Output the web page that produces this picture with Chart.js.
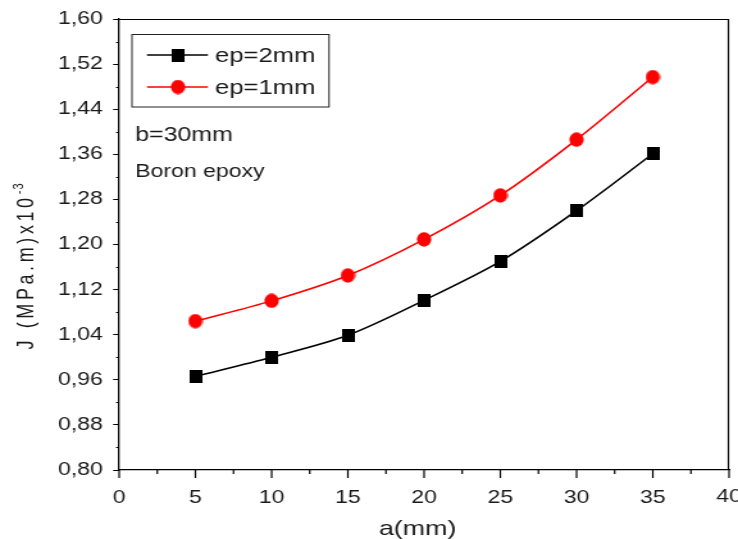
<!DOCTYPE html>
<html><head><meta charset="utf-8">
<script src="https://cdn.jsdelivr.net/npm/chart.js@4.4.1/dist/chart.umd.min.js"></script>
<style>
html,body{margin:0;padding:0;background:#fff;overflow:hidden;width:738px;height:539px}
#wrap{width:576px;height:539px;transform:scaleX(1.28125);transform-origin:0 0}
</style>
</head><body><div id="wrap"><canvas id="c" width="576" height="539"></canvas></div>
<script>
const aValues = [5, 10, 15, 20, 25, 30, 35];
const jEp2mm = [0.966, 1.000, 1.039, 1.101, 1.170, 1.260, 1.361];
const jEp1mm = [1.064, 1.100, 1.145, 1.209, 1.287, 1.386, 1.497];
const seriesNames = ['ep=2mm', 'ep=1mm'];
const noteLines = ['b=30mm', 'Boron epoxy'];
const xTitle = 'a(mm)';
const yTitleMain = 'J (MPa.m)x10';
const yTitleSup = '-3';

const FONT = "'Liberation Sans', Arial, sans-serif";
const TXT = '#1a1a1a';

function markerSquare(color) {
  const c = document.createElement('canvas'); c.width = 10; c.height = 13;
  const g = c.getContext('2d'); g.fillStyle = color; g.fillRect(0, 0, 10, 13); return c;
}
function markerCircle(color) {
  const c = document.createElement('canvas'); c.width = 12; c.height = 15;
  const g = c.getContext('2d'); g.fillStyle = color;
  g.beginPath(); g.ellipse(6, 7.5, 5.6, 7.2, 0, 0, Math.PI * 2); g.fill(); return c;
}
const sqBlack = markerSquare('#000');
const ciRed = markerCircle('#ff0000');

const decor = {
  id: 'decor',
  afterDraw(chart) {
    const ctx = chart.ctx, x = chart.scales.x, y = chart.scales.y, a = chart.chartArea;
    ctx.save();
    ctx.strokeStyle = '#000'; ctx.lineWidth = 1.2;
    ctx.beginPath();
    for (let v = 0; v <= 40; v += 5) {
      const px = x.getPixelForValue(v);
      ctx.moveTo(px, a.bottom); ctx.lineTo(px, a.bottom + 8);
    }
    for (let v = 2.5; v < 40; v += 5) {
      const px = x.getPixelForValue(v);
      ctx.moveTo(px, a.bottom); ctx.lineTo(px, a.bottom + 4);
    }
    ctx.stroke();
    ctx.lineWidth = 1;
    ctx.beginPath();
    for (let i = 0; i < 10; i++) {
      const v = 0.84 + i * 0.08;
      const py = Math.round(y.getPixelForValue(v)) + 0.5;
      ctx.moveTo(a.left, py); ctx.lineTo(a.left - 2.4, py);
    }
    ctx.stroke();
    // frame top/right
    ctx.lineWidth = 1.2;
    ctx.beginPath();
    ctx.moveTo(a.left, a.top + 0.5); ctx.lineTo(a.right - 0.5, a.top + 0.5); ctx.lineTo(a.right - 0.5, a.bottom);
    ctx.stroke();
    // last x tick label (clipped by canvas edge, as in the original)
    ctx.fillStyle = TXT; ctx.font = '18px ' + FONT;
    ctx.textAlign = 'center'; ctx.textBaseline = 'middle';
    ctx.fillText('40', x.getPixelForValue(40), 497);
    // x title
    ctx.font = '21px ' + FONT; ctx.textBaseline = 'alphabetic';
    ctx.fillText(xTitle, 326, 535);
    // y title (rotated)
    ctx.save();
    ctx.translate(26, 266); ctx.rotate(-Math.PI / 2);
    ctx.font = '18px ' + FONT; ctx.textAlign = 'left';
    try { ctx.letterSpacing = '3.6px'; } catch (e) {}
    const wMain = ctx.measureText(yTitleMain).width;
    ctx.font = '11px ' + FONT;
    try { ctx.letterSpacing = '1px'; } catch (e) {}
    const wSup = ctx.measureText(yTitleSup).width;
    const start = -(wMain + wSup) / 2;
    ctx.font = '18px ' + FONT;
    try { ctx.letterSpacing = '3.6px'; } catch (e) {}
    ctx.fillText(yTitleMain, start, 0);
    ctx.font = '11px ' + FONT;
    try { ctx.letterSpacing = '1px'; } catch (e) {}
    ctx.fillText(yTitleSup, start + wMain, -8);
    ctx.restore();
    try { ctx.letterSpacing = '0px'; } catch (e) {}
    // legend box
    ctx.strokeStyle = '#222'; ctx.lineWidth = 1;
    ctx.strokeRect(103, 34.5, 153.8, 72.5);
    const ds = chart.data.datasets;
    const rows = [55, 87];
    ds.forEach((d, i) => {
      const yy = rows[i];
      ctx.strokeStyle = d.borderColor; ctx.lineWidth = 1.5;
      ctx.beginPath(); ctx.moveTo(114.7, yy); ctx.lineTo(162.3, yy); ctx.stroke();
      const img = d.pointStyle;
      ctx.drawImage(img, 138.9 - img.width / 2, yy - img.height / 2);
      ctx.fillStyle = TXT;
      ctx.font = '20px ' + FONT; ctx.textBaseline = 'middle'; ctx.textAlign = 'left';
      ctx.fillText(seriesNames[i], 167.8, yy + 1);
    });
    ctx.fillStyle = TXT; ctx.textBaseline = 'alphabetic'; ctx.textAlign = 'left';
    ctx.font = '19.5px ' + FONT;
    ctx.fillText(noteLines[0], 105.4, 141);
    ctx.font = '18px ' + FONT;
    ctx.fillText(noteLines[1], 105.4, 177);
    ctx.restore();
  }
};

new Chart(document.getElementById('c'), {
  type: 'line',
  data: {
    datasets: [
      { label: seriesNames[0], data: aValues.map((a, i) => ({x: a, y: jEp2mm[i]})),
        borderColor: '#000', backgroundColor: '#000', borderWidth: 1.6,
        pointStyle: sqBlack, pointRadius: 7, pointHoverRadius: 7, tension: 0.3 },
      { label: seriesNames[1], data: aValues.map((a, i) => ({x: a, y: jEp1mm[i]})),
        borderColor: '#ff0000', backgroundColor: '#ff0000', borderWidth: 1.6,
        pointStyle: ciRed, pointRadius: 7, pointHoverRadius: 7, tension: 0.3 }
    ]
  },
  options: {
    responsive: false, animation: false, devicePixelRatio: 1,
    layout: { autoPadding: false, padding: { top: 19, right: 7, left: 0, bottom: 0 } },
    plugins: { legend: { display: false }, tooltip: { enabled: false } },
    events: [],
    scales: {
      x: {
        type: 'linear', min: 0, max: 40,
        ticks: { stepSize: 5, color: TXT, font: { family: FONT, size: 18 }, padding: 0, maxRotation: 0,
          callback: v => (v === 40 ? '' : String(v)) },
        grid: { drawOnChartArea: false, drawTicks: true, tickLength: 17, tickColor: 'rgba(0,0,0,0)', color: 'rgba(0,0,0,0)' },
        border: { color: '#000', width: 1.3 },
        title: { display: false },
        afterFit(s) { s.height = 69; s.paddingLeft = 0; s.paddingRight = 0; }
      },
      y: {
        type: 'linear', min: 0.8, max: 1.6,
        ticks: { stepSize: 0.08, color: TXT, font: { family: FONT, size: 18 }, padding: 8,
          callback: v => v.toFixed(2).replace('.', ',') },
        grid: { drawOnChartArea: false, drawTicks: true, tickLength: 4.7, color: '#000' },
        border: { color: '#000', width: 1.3 },
        title: { display: false },
        afterFit(s) { s.width = 93; s.paddingTop = 0; s.paddingBottom = 0; }
      }
    }
  },
  plugins: [decor]
});
</script></body></html>
